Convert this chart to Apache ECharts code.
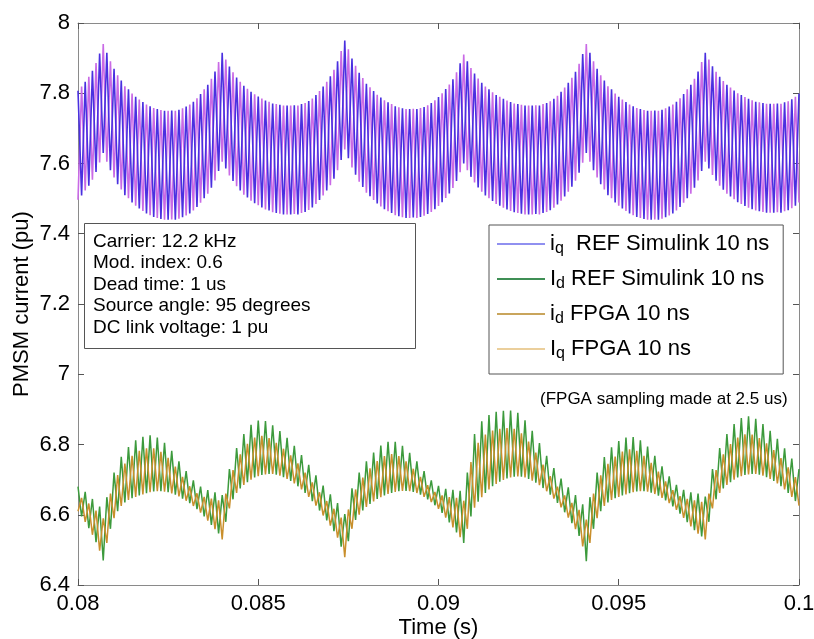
<!DOCTYPE html>
<html><head><meta charset="utf-8">
<script src="https://cdn.jsdelivr.net/npm/echarts@6/dist/echarts.min.js"></script>
<style>html,body{margin:0;padding:0;background:#fff}#c{width:814px;height:639px}</style>
</head><body><div id="c"></div>
<script>
// sampling grid: 0.08 s .. 0.1 s, step 0.1 ms
const T0 = 0.08, DT = 0.0001;
const xTicks = [0.08, 0.085, 0.09, 0.095, 0.1];
const yTicks = [6.4, 6.6, 6.8, 7, 7.2, 7.4, 7.6, 7.8, 8];

// i_q envelope (upper / lower)
const iqUpper = [7.807,7.819,7.833,7.847,7.864,7.886,7.913,7.940,
7.915,7.891,7.870,7.851,7.836,7.820,7.811,7.799,7.790,7.782,7.775,7.768,7.763,7.758,7.755,7.752,7.750,7.750,7.751,
7.750,7.753,7.757,7.762,7.768,7.776,7.786,7.798,7.811,7.824,7.841,7.862,7.889,7.915,
7.896,7.876,7.860,7.845,7.833,7.821,7.813,7.804,7.797,7.791,7.785,7.779,7.776,7.771,7.769,7.767,7.765,7.765,7.765,7.766,
7.765,7.769,7.772,7.778,7.785,7.795,7.806,7.819,7.833,7.848,7.867,7.891,7.920,7.950,
7.925,7.899,7.878,7.858,7.843,7.827,7.817,7.806,7.796,7.788,7.780,7.774,7.769,7.763,7.760,7.757,7.755,7.755,7.756,
7.755,7.758,7.761,7.766,7.772,7.780,7.789,7.800,7.812,7.825,7.840,7.860,7.885,7.910,
7.891,7.872,7.856,7.842,7.830,7.819,7.811,7.803,7.795,7.790,7.784,7.779,7.775,7.771,7.769,7.767,7.765,7.765,7.765,7.766,
7.765,7.769,7.772,7.777,7.784,7.793,7.804,7.816,7.830,7.844,7.861,7.884,7.912,7.940,
7.915,7.891,7.870,7.851,7.836,7.820,7.811,7.799,7.790,7.782,7.775,7.768,7.763,7.758,7.755,7.752,7.750,7.750,7.751,
7.750,7.753,7.757,7.762,7.768,7.776,7.786,7.798,7.811,7.824,7.841,7.862,7.889,7.915,
7.896,7.877,7.861,7.847,7.835,7.824,7.816,7.808,7.800,7.795,7.789,7.784,7.780,7.776,7.774,7.772,7.770,7.770,7.770,7.771,
7.770,7.774,7.777,7.783,7.790,7.799];
const iqLower = [7.497,7.509,7.523,7.537,7.554,7.576,7.603,7.630,
7.605,7.581,7.560,7.541,7.526,7.510,7.501,7.489,7.480,7.472,7.465,7.458,7.453,7.448,7.445,7.442,7.440,7.440,7.441,
7.440,7.443,7.447,7.452,7.458,7.466,7.476,7.488,7.501,7.514,7.531,7.552,7.579,7.605,
7.586,7.566,7.550,7.535,7.523,7.511,7.503,7.494,7.487,7.481,7.475,7.469,7.466,7.461,7.459,7.457,7.455,7.455,7.455,7.456,
7.455,7.459,7.462,7.468,7.475,7.485,7.496,7.509,7.523,7.538,7.557,7.581,7.610,7.640,
7.615,7.589,7.568,7.548,7.533,7.517,7.507,7.496,7.486,7.478,7.470,7.464,7.459,7.453,7.450,7.447,7.445,7.445,7.446,
7.445,7.448,7.451,7.456,7.462,7.470,7.479,7.490,7.502,7.515,7.530,7.550,7.575,7.600,
7.581,7.562,7.546,7.532,7.520,7.509,7.501,7.493,7.485,7.480,7.474,7.469,7.465,7.461,7.459,7.457,7.455,7.455,7.455,7.456,
7.455,7.459,7.462,7.467,7.474,7.483,7.494,7.506,7.520,7.534,7.551,7.574,7.602,7.630,
7.605,7.581,7.560,7.541,7.526,7.510,7.501,7.489,7.480,7.472,7.465,7.458,7.453,7.448,7.445,7.442,7.440,7.440,7.441,
7.440,7.443,7.447,7.452,7.458,7.466,7.476,7.488,7.501,7.514,7.531,7.552,7.579,7.605,
7.586,7.567,7.551,7.537,7.525,7.514,7.506,7.498,7.490,7.485,7.479,7.474,7.470,7.466,7.464,7.462,7.460,7.460,7.460,7.461,
7.460,7.464,7.467,7.473,7.480,7.489];

// I_d REF upper envelope, I_d FPGA upper envelope, shared lower envelope
const idRefUpper = [6.680,6.672,6.665,6.655,6.645,6.635,6.623,6.612,
6.650,6.690,6.720,6.745,6.765,6.780,6.793,6.803,6.812,6.818,6.822,6.825,6.826,6.824,6.820,6.813,6.805,6.795,6.782,6.768,6.752,6.738,6.724,6.710,6.698,6.688,6.680,6.674,6.670,6.667,6.664,6.661,6.656,
6.690,6.730,6.762,6.790,6.812,6.830,6.845,6.856,6.864,6.868,6.869,6.867,6.862,6.855,6.847,6.838,6.829,6.819,6.808,6.796,6.783,6.770,6.756,6.742,6.727,6.712,6.697,6.683,6.670,6.658,6.646,6.633,6.618,6.602,
6.640,6.675,6.700,6.720,6.737,6.752,6.765,6.777,6.788,6.797,6.804,6.808,6.810,6.808,6.803,6.796,6.787,6.776,6.764,6.752,6.738,6.724,6.710,6.698,6.689,6.682,6.677,6.674,6.672,6.671,6.670,6.668,6.660,
6.720,6.790,6.830,6.852,6.866,6.876,6.884,6.889,6.893,6.895,6.896,6.897,6.897,6.895,6.890,6.881,6.869,6.855,6.839,6.822,6.804,6.786,6.768,6.750,6.733,6.717,6.703,6.690,6.678,6.667,6.656,6.645,6.630,6.612,
6.650,6.690,6.720,6.744,6.764,6.779,6.792,6.802,6.810,6.816,6.820,6.822,6.821,6.818,6.812,6.804,6.794,6.782,6.768,6.753,6.738,6.723,6.709,6.696,6.685,6.677,6.671,6.667,6.664,6.662,6.660,6.657,6.652,
6.690,6.730,6.762,6.790,6.812,6.830,6.845,6.858,6.868,6.875,6.879,6.880,6.878,6.873,6.866,6.858,6.849,6.839,6.828,6.816,6.803,6.789,6.775,6.760,6.745,6.730];
const idFpgaUpper = [6.655,6.648,6.640,6.632,6.622,6.612,6.600,6.590,
6.625,6.660,6.690,6.713,6.732,6.746,6.758,6.768,6.776,6.782,6.786,6.789,6.790,6.789,6.785,6.779,6.771,6.762,6.750,6.737,6.722,6.708,6.694,6.681,6.670,6.661,6.655,6.651,6.648,6.646,6.644,6.641,6.635,
6.660,6.697,6.727,6.752,6.772,6.788,6.802,6.812,6.820,6.824,6.825,6.823,6.818,6.812,6.805,6.797,6.788,6.779,6.769,6.758,6.746,6.733,6.720,6.706,6.692,6.678,6.664,6.651,6.639,6.628,6.617,6.605,6.592,6.580,
6.615,6.648,6.672,6.690,6.706,6.720,6.732,6.743,6.753,6.761,6.767,6.771,6.773,6.771,6.767,6.760,6.752,6.742,6.731,6.720,6.708,6.696,6.684,6.673,6.665,6.659,6.655,6.652,6.650,6.649,6.648,6.646,6.640,
6.690,6.750,6.785,6.805,6.818,6.828,6.835,6.840,6.843,6.845,6.846,6.847,6.847,6.845,6.840,6.832,6.821,6.808,6.793,6.777,6.760,6.743,6.726,6.710,6.694,6.680,6.667,6.655,6.644,6.634,6.624,6.614,6.601,6.586,
6.625,6.660,6.690,6.712,6.731,6.745,6.757,6.766,6.774,6.780,6.784,6.786,6.785,6.782,6.776,6.768,6.759,6.748,6.736,6.723,6.709,6.695,6.682,6.670,6.660,6.653,6.648,6.645,6.643,6.641,6.640,6.637,6.632,
6.660,6.697,6.727,6.752,6.772,6.788,6.801,6.812,6.820,6.826,6.829,6.830,6.828,6.824,6.818,6.811,6.803,6.794,6.784,6.773,6.761,6.748,6.735,6.721,6.707,6.693];
const idLower = [6.610,6.595,6.580,6.562,6.543,6.522,6.498,6.470,
6.520,6.560,6.590,6.610,6.625,6.635,6.642,6.647,6.651,6.655,6.658,6.661,6.664,6.666,6.667,6.667,6.666,6.664,6.661,6.657,6.652,6.646,6.640,6.633,6.625,6.616,6.606,6.595,6.583,6.571,6.559,6.547,6.530,
6.580,6.618,6.644,6.662,6.675,6.685,6.693,6.700,6.706,6.710,6.713,6.715,6.716,6.716,6.714,6.711,6.707,6.702,6.696,6.689,6.681,6.672,6.662,6.651,6.639,6.626,6.612,6.598,6.584,6.569,6.553,6.535,6.509,6.479,
6.525,6.560,6.585,6.600,6.612,6.622,6.631,6.638,6.645,6.650,6.655,6.659,6.662,6.665,6.667,6.668,6.668,6.667,6.665,6.662,6.657,6.651,6.644,6.636,6.627,6.617,6.605,6.592,6.578,6.564,6.550,6.536,6.520,
6.560,6.595,6.620,6.637,6.650,6.662,6.672,6.681,6.688,6.694,6.699,6.703,6.706,6.708,6.709,6.708,6.706,6.702,6.697,6.691,6.684,6.676,6.667,6.657,6.646,6.634,6.621,6.607,6.592,6.576,6.559,6.540,6.510,6.468,
6.520,6.560,6.590,6.610,6.625,6.635,6.642,6.647,6.651,6.655,6.658,6.661,6.664,6.666,6.667,6.667,6.666,6.663,6.659,6.654,6.648,6.641,6.633,6.624,6.614,6.603,6.591,6.579,6.567,6.556,6.546,6.538,6.530,
6.580,6.618,6.644,6.662,6.675,6.685,6.693,6.700,6.706,6.710,6.713,6.715,6.716,6.716,6.714,6.711,6.707,6.702,6.696,6.689,6.681,6.672,6.662,6.651,6.639,6.626];

const legendTexts = {
  'iq REF': '{m|i}{s|q}{m|  REF Simulink 10 ns}',
  'Id REF': '{m|I}{s|d}{m| REF Simulink 10 ns}',
  'id FPGA': '{m|i}{s|d}{m| FPGA 10 ns}',
  'Iq FPGA': '{m|I}{s|q}{m| FPGA 10 ns}'
};
const notes = ['Carrier: 12.2 kHz', 'Mod. index: 0.6', 'Dead time: 1 us', 'Source angle: 95 degrees', 'DC link voltage: 1 pu'];
const samplingNote = '(FPGA sampling made at 2.5 us)';

function zig(up, lo, phase) {
  const n = Math.min(up.length, lo.length);
  const out = [];
  for (let i = 0; i < n; i++) {
    out.push([+(T0 + i * DT).toFixed(5), ((i + phase) % 2 === 0) ? up[i] : lo[i]]);
  }
  return out;
}

const FONT = '"Liberation Sans", Arial, sans-serif';
const chart = echarts.init(document.getElementById('c'), null, {renderer: 'canvas'});
const axisLineStyle = {color: '#8a8a8a', width: 1};
const baseX = {
  type: 'value', min: 0.08, max: 0.1, interval: 0.005,
  axisLine: {show: true, lineStyle: axisLineStyle},
  axisTick: {show: true, inside: true, length: 6, lineStyle: {color: '#555'}},
  splitLine: {show: false}
};
const baseY = {
  type: 'value', min: 6.4, max: 8, interval: 0.2,
  axisLine: {show: true, lineStyle: axisLineStyle},
  axisTick: {show: true, inside: true, length: 6, lineStyle: {color: '#555'}},
  splitLine: {show: false}
};
const line = (name, data, color, w) => ({
  name, type: 'line', data, symbol: 'none', silent: true, animation: false,
  lineStyle: {color, width: w}, itemStyle: {color}, xAxisIndex: 0, yAxisIndex: 0
});
const legItem = (name, color) => ({name, icon: 'rect', itemStyle: {color, borderWidth: 0}});

chart.setOption({
  animation: false,
  backgroundColor: '#fff',
  grid: {left: 78, right: 15, top: 23, bottom: 54, containLabel: false, outerBoundsMode: 'none'},
  xAxis: [
    Object.assign({}, baseX, {
      position: 'bottom',
      axisLabel: {color: '#000', fontSize: 22, fontFamily: FONT, margin: 8,
        formatter: v => String(+v.toFixed(3))},
      name: 'Time (s)', nameLocation: 'middle', nameGap: 32, nameMoveOverlap: false,
      nameTextStyle: {color: '#000', fontSize: 22, fontFamily: FONT}
    }),
    Object.assign({}, baseX, {position: 'top', axisLabel: {show: false}})
  ],
  yAxis: [
    Object.assign({}, baseY, {
      position: 'left',
      axisLabel: {color: '#000', fontSize: 22, fontFamily: FONT, margin: 8,
        formatter: v => String(+v.toFixed(1))},
      name: 'PMSM current (pu)', nameLocation: 'middle', nameGap: 45, nameMoveOverlap: false,
      nameTextStyle: {color: '#000', fontSize: 22, fontFamily: FONT}
    }),
    Object.assign({}, baseY, {position: 'right', axisLabel: {show: false}})
  ],
  legend: {
    left: 489, top: 225, orient: 'vertical',
    backgroundColor: '#fff', borderColor: '#555', borderWidth: 1,
    padding: [8, 14, 12, 8], itemGap: 11, itemWidth: 48, itemHeight: 2,
    selectedMode: false,
    data: [
      legItem('iq REF', '#9090f0'),
      legItem('Id REF', '#3f8f55'),
      legItem('id FPGA', '#c9a55c'),
      legItem('Iq FPGA', '#ebcf9c')
    ],
    formatter: n => legendTexts[n],
    textStyle: {
      color: '#000', fontFamily: FONT,
      rich: {
        m: {fontSize: 22, lineHeight: 26, fontFamily: FONT, color: '#000'},
        s: {fontSize: 16, lineHeight: 13, verticalAlign: 'bottom', fontFamily: FONT, color: '#000'}
      }
    }
  },
  graphic: [
    {type: 'rect', left: 84, top: 223, z: 100,
      shape: {width: 331, height: 125},
      style: {fill: '#fff', stroke: '#555', lineWidth: 1}},
    {type: 'text', left: 93, top: 231, z: 101,
      style: {text: notes.join('\n'), fontSize: 19, lineHeight: 21.5, fontFamily: FONT, fill: '#000'}},
    {type: 'text', left: 540, top: 391, z: 101,
      style: {text: samplingNote, fontSize: 17, fontFamily: FONT, fill: '#000'}}
  ],
  series: [
    line('Iq FPGA', zig(iqUpper, iqLower, 1), '#c96ae6', 1.6),
    line('iq REF', zig(iqUpper, iqLower, 0), '#4a30e0', 1.6),
    line('Id REF', zig(idRefUpper, idLower, 0), '#3c9a3c', 1.5),
    line('id FPGA', zig(idFpgaUpper, idLower, 1), '#c98f2c', 1.5)
  ]
});
</script>
</body></html>
